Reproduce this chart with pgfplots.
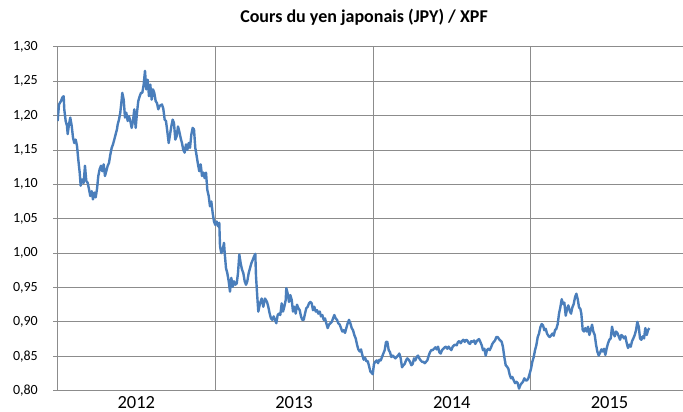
\documentclass[border=0pt]{standalone}
\usepackage{fontspec}
\setmainfont{Carlito}
\usepackage{pgfplots}
\pgfplotsset{compat=1.18}
\definecolor{gridgray}{RGB}{140,140,140}
\definecolor{lineblue}{RGB}{74,126,187}
\begin{document}
\begin{tikzpicture}
\path[use as bounding box] (-57.5pt,-21.3pt) rectangle (625.5pt,390.7pt);
\begin{axis}[
  at={(0pt,0pt)}, anchor=south west,
  scale only axis, width=625.5pt, height=344pt,
  xmin=2012, xmax=2015.966, ymin=0.8, ymax=1.3,
  x filter/.expression={2012+(x-57.5)/157.7},
  axis x line*=bottom, axis y line*=left,
  axis line style={draw=gridgray, line width=0.8pt, -},
  ytick={0.80,0.85,0.90,0.95,1.00,1.05,1.10,1.15,1.20,1.25,1.30},
  yticklabel style={font=\fontsize{14}{14}\selectfont, anchor=east, inner sep=0pt, xshift=-15pt,
    /pgf/number format/.cd, fixed, fixed zerofill, precision=2, use comma, assume math mode=true},
  ymajorgrids,
  major grid style={draw=gridgray, line width=0.8pt},
  tick align=outside, major tick length=4.5pt,
  ytick style={draw=gridgray, line width=0.8pt},
  xtick={2013,2014,2015}, xticklabels={}, xmajorgrids, xtick style={draw=none},
  extra x ticks={2012.5,2013.5,2014.5,2015.5},
  extra x tick labels={2012,2013,2014,2015},
  extra x tick style={xmajorgrids=false, tick style={draw=none},
    xticklabel style={font=\fontsize{18.5}{18.5}\selectfont, anchor=north, inner sep=0pt, yshift=-1.2pt}},
  title={Cours du yen japonais (JPY) / XPF},
  title style={font=\bfseries\fontsize{18}{18}\selectfont, at={(0.49,1)}, anchor=base, yshift=18.4pt},
]
\addplot[lineblue, line width=2.4pt, line join=round, no markers] coordinates {
(57.7,1.192) (59,1.216) (61,1.221) (62.3,1.226) (63.7,1.228) (64.3,1.209) (65.7,1.192) (67,1.185)
(67.7,1.173) (69,1.187) (70.3,1.197) (71.7,1.185) (73,1.168) (74.3,1.160) (75.7,1.165) (77,1.156)
(78.3,1.136) (79.7,1.117) (80.7,1.098) (82.3,1.107) (83.7,1.102) (85,1.127) (86.3,1.105) (87.7,1.102)
(89,1.093) (90.3,1.083) (91.7,1.090) (93,1.078) (94.3,1.088) (95.7,1.081) (97,1.093) (98.3,1.112)
(99.7,1.122) (101,1.127) (102.3,1.119) (103.7,1.129) (105,1.112) (106.3,1.119) (107.7,1.127) (109,1.131)
(110.3,1.143) (111.7,1.153) (113,1.158) (114.3,1.165) (115.7,1.173) (117,1.180) (117.7,1.187) (119,1.194)
(120.3,1.204) (121.7,1.223) (122.3,1.233) (123.7,1.223) (125,1.197) (126.3,1.204) (127.7,1.192) (129,1.199)
(130.3,1.192) (131.7,1.182) (133,1.192) (134.3,1.209) (135.7,1.182) (137,1.204) (138.3,1.221) (139.7,1.228)
(141,1.233) (142.3,1.233) (143.7,1.245) (145,1.265) (146.3,1.238) (147.7,1.252) (149,1.228) (150.3,1.245)
(151.7,1.223) (153,1.238) (154.3,1.233) (155.7,1.221) (157,1.218) (158.3,1.209) (159.7,1.214)
(162,1.216) (163.3,1.210) (164.7,1.194) (166,1.192) (167.3,1.177) (168.7,1.160) (170,1.172) (171.3,1.184)
(172.7,1.194) (174,1.189) (175.3,1.165) (176.7,1.170) (178,1.184) (179.3,1.177) (180.7,1.167) (182,1.160)
(183.3,1.150) (184.7,1.146) (186,1.158) (187.3,1.150) (188.7,1.160) (190,1.153) (191.3,1.172) (192.7,1.182)
(194,1.180) (195.3,1.153) (196.7,1.141) (198,1.129) (199.3,1.119) (200.7,1.129) (202,1.112) (203.3,1.117)
(204.7,1.109) (206,1.117) (207.3,1.092) (208.7,1.083) (210,1.068) (211.3,1.075) (212.7,1.058) (214,1.046)
(215.3,1.041) (216.7,1.046) (218,1.039) (219.3,1.044) (220,1.010) (221.3,1.000) (222.7,1.005) (224,1.015)
(224.7,1.000) (226,0.978) (227.3,0.971) (228.7,0.959) (230,0.944) (231.3,0.964) (232.7,0.951) (234,0.959)
(235.3,0.954) (236.7,0.956) (238,0.971) (239.3,0.998) (240.7,0.985) (242,0.976) (243.3,0.971) (244.7,0.959)
(246,0.954) (247.3,0.959) (248.7,0.971) (250,0.978) (251.3,0.985) (252.7,0.990) (254,0.995) (255.3,0.999)
(256,0.966) (257.3,0.936) (258.3,0.915) (260,0.927) (261.7,0.934) (263.3,0.922)
(265,0.934) (267,0.929) (268.3,0.922) (269.7,0.912) (271,0.905) (272.3,0.903) (273.7,0.908) (275,0.903)
(276.3,0.898) (277.7,0.910) (279,0.912) (280.3,0.910) (281.7,0.927) (283,0.915) (284.3,0.922) (285.7,0.932)
(286.3,0.949) (287.7,0.941) (289,0.929) (290.3,0.939) (291.7,0.932) (293,0.915) (294.3,0.922) (295.7,0.912)
(297,0.925) (298.3,0.920) (299.7,0.917) (301,0.908) (302.3,0.903) (303.7,0.903) (305,0.912) (306.3,0.920)
(307.7,0.922) (309,0.927) (310.3,0.929) (311.7,0.927) (313,0.917) (314.3,0.922) (315.7,0.915) (317,0.917)
(318.3,0.912) (319.7,0.915) (321,0.908) (322.3,0.910) (323.7,0.903) (325,0.905) (326.3,0.898) (327.7,0.891)
(329,0.896) (330.3,0.898) (331.7,0.900) (333,0.905) (334.3,0.910) (335.7,0.905) (337,0.903) (338.3,0.898)
(339.7,0.896) (341,0.891) (342.3,0.886) (343.7,0.888) (345,0.884) (346.3,0.891) (347.7,0.898) (349,0.903)
(350.3,0.898) (351.7,0.891) (353,0.888) (354.3,0.881) (355.7,0.876) (357,0.867) (358.3,0.860) (359.7,0.857)
(361,0.860) (362.3,0.852) (363.7,0.845) (365,0.848) (366.3,0.843) (367.7,0.843) (369,0.836) (370.3,0.828)
(371.7,0.826) (372.7,0.824)
(374,0.839) (375.3,0.842) (376.7,0.844) (378,0.840) (379.3,0.845) (380.7,0.844) (382,0.849) (383.3,0.854)
(384.7,0.859) (386,0.871) (387.3,0.871) (388.7,0.859) (390,0.856) (391.3,0.849) (392.7,0.851) (394,0.849)
(395.3,0.847) (396.7,0.849) (398,0.851) (399.3,0.854) (400.7,0.847) (402,0.834) (403.3,0.837) (404.7,0.839)
(406,0.844) (407.3,0.847) (408.7,0.845) (410,0.842) (411.3,0.837) (412.7,0.839) (414,0.847) (415.3,0.844)
(416.7,0.849) (418,0.851) (419.3,0.847) (420.7,0.844) (422,0.842) (423.3,0.842) (424.7,0.840) (426,0.842)
(427.3,0.844) (428.7,0.851) (430,0.856) (431.3,0.859) (432.7,0.859) (434,0.861) (435.3,0.863) (436.7,0.860)
(438,0.864) (439.3,0.856) (440.7,0.854) (442,0.859) (443.3,0.861) (444.7,0.863) (446,0.864) (447.3,0.861)
(448.7,0.864) (450,0.861) (451.3,0.859) (452.7,0.864) (454,0.866) (455.3,0.867) (456.7,0.866) (458,0.871)
(459.3,0.872) (460.7,0.869) (462,0.872) (463.3,0.874) (464.7,0.871) (466,0.874) (467.3,0.873) (468.7,0.869)
(470,0.868) (471.3,0.872) (472.7,0.871) (474,0.873) (475.3,0.868) (476.7,0.872) (478,0.874)
(479,0.875) (480.3,0.871) (481.7,0.866) (483,0.859) (484.3,0.861) (485.7,0.851) (487,0.859) (488.3,0.861)
(489.7,0.859) (491,0.863) (492.3,0.868) (493.7,0.871) (495,0.873) (496.3,0.878) (497.7,0.878) (499,0.875)
(500.3,0.873) (501.7,0.871) (503,0.863) (504.3,0.849) (505.7,0.837) (507,0.835) (508.3,0.832) (509.7,0.823)
(511,0.818) (512.3,0.820) (513.7,0.815) (515,0.811) (516.3,0.813) (517.7,0.811) (519,0.803) (520.3,0.808)
(521.7,0.811) (523,0.813) (524.3,0.818) (525.7,0.815) (527,0.815) (528.3,0.818) (529.7,0.825) (531,0.832)
(532.3,0.842) (533.7,0.849) (535,0.859) (536.3,0.866) (537.7,0.878) (539,0.883) (540.3,0.892) (541.7,0.897)
(543,0.895) (544.3,0.888) (545.7,0.890) (547,0.883) (548.3,0.880) (549.7,0.878) (551,0.880) (552.3,0.883)
(553.7,0.880) (555,0.888) (556.3,0.890) (557.7,0.897) (559,0.912) (560.3,0.921) (561.7,0.933) (563,0.926)
(564.3,0.928) (565.7,0.909) (567,0.919) (568.3,0.924) (569.7,0.916) (571,0.912) (572.3,0.921) (573.7,0.926)
(575,0.936) (576.3,0.941) (577.7,0.933) (579,0.921) (580.3,0.919)
(581.3,0.912) (582.7,0.888) (584,0.886) (585.3,0.891) (586.7,0.886) (588,0.893) (589.3,0.881) (590.7,0.888)
(592,0.896) (593.3,0.886) (594.7,0.881) (596,0.867) (597.3,0.857) (598.7,0.851) (600,0.855) (601.3,0.860)
(602.7,0.857) (604,0.861) (605.3,0.852) (606.7,0.862) (608,0.869) (609.3,0.874) (610.7,0.876) (612,0.893)
(613.3,0.884) (614.7,0.879) (616,0.886) (617.3,0.884) (618.7,0.879) (620,0.874) (621.3,0.881) (622.7,0.879)
(624,0.876) (625.3,0.879) (626.7,0.869) (628,0.862) (629.3,0.867) (630.7,0.864) (632,0.872) (633.3,0.876)
(634.7,0.881) (636,0.888) (637.3,0.900) (638.7,0.893) (640,0.876) (641.3,0.874) (642.7,0.879) (644,0.876)
(645.3,0.891) (646.7,0.881) (648,0.888) (649.3,0.891)
};
\end{axis}
\end{tikzpicture}
\end{document}
